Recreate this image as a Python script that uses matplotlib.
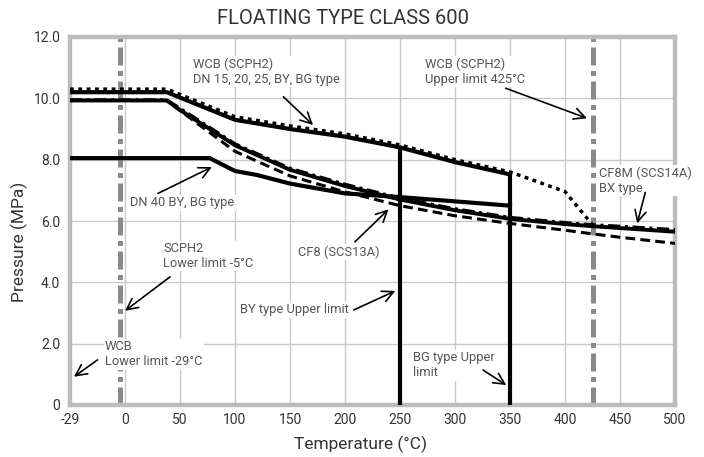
import matplotlib
matplotlib.use("Agg")
import matplotlib.pyplot as plt
import numpy as np

plt.rcParams['font.family'] = ['Roboto', 'DejaVu Sans']

# ---------------- data ----------------
# x position -50 is the left edge of the axis, labelled "-29"
x_ticks = [-50, 0, 50, 100, 150, 200, 250, 300, 350, 400, 450, 500]
x_tick_labels = ["-29", "0", "50", "100", "150", "200", "250", "300", "350", "400", "450", "500"]
y_ticks = [0, 2, 4, 6, 8, 10, 12]
y_tick_labels = ["0", "2.0", "4.0", "6.0", "8.0", "10.0", "12.0"]

# WCB (SCPH2) DN 15, 20, 25 BY, BG type (solid)
t_wcb = [-50, 38, 100, 150, 200, 250, 300, 350]
p_wcb = [10.2, 10.2, 9.3, 9.0, 8.75, 8.4, 7.92, 7.52]

# WCB (SCPH2) rating (dotted)
t_wcb_dot = [-50, 38, 100, 150, 200, 250, 300, 350, 400, 425]
p_wcb_dot = [10.3, 10.3, 9.4, 9.1, 8.84, 8.48, 8.0, 7.6, 6.96, 5.87]

# DN 40 BY, BG type (solid)
t_dn40 = [-50, 77, 100, 120, 150, 200, 250, 300, 350]
p_dn40 = [8.05, 8.05, 7.63, 7.5, 7.22, 6.9, 6.78, 6.64, 6.5]

# stainless curves
t_ss = [-50, 38, 50, 100, 150, 200, 250, 300, 350, 400, 425, 450, 500]
p_cf8m_dd = [9.95, 9.95, 9.68, 8.52, 7.72, 7.2, 6.75, 6.4, 6.12, 5.95, 5.88, 5.83, 5.72]
p_cf8m_solid = [9.93, 9.93, 9.62, 8.47, 7.67, 7.14, 6.7, 6.35, 6.07, 5.9, 5.83, 5.77, 5.65]
p_cf8 = [9.93, 9.93, 9.6, 8.27, 7.47, 6.95, 6.5, 6.17, 5.92, 5.7, 5.58, 5.47, 5.27]

# temperature limits
scph2_lower = -5
wcb_upper = 425
by_upper = 250
bg_upper = 350

# ---------------- figure ----------------
fig = plt.figure(figsize=(7.04, 4.57), dpi=100)
ax = fig.add_axes([70/704, 1-405/457, 605/704, 368/457])
ax.set_xlim(-50, 500)
ax.set_ylim(0, 12)

grid_c = '#c9c9c9'
for x in x_ticks[1:-1]:
    ax.axvline(x, color=grid_c, lw=1.0, zorder=0)
for y in y_ticks[1:-1]:
    ax.axhline(y, color=grid_c, lw=1.0, zorder=0)

for s in ax.spines.values():
    s.set_color('#bcbcbc')
    s.set_linewidth(3.2)

ax.set_xticks(x_ticks)
ax.set_xticklabels(x_tick_labels)
ax.set_yticks(y_ticks)
ax.set_yticklabels(y_tick_labels)
ax.tick_params(length=0, labelsize=10, colors='#333333')
ax.tick_params(axis='y', pad=7)
ax.tick_params(axis='x', pad=6)

# gray dash-dot limit lines
gray = '#8a8a8a'
for xv in (scph2_lower, wcb_upper):
    ax.plot([xv, xv], [0, 12], color=gray, lw=3.6, ls=(0, (3.6, 1.1, 1.0, 1.1)),
            solid_capstyle='butt', dash_capstyle='butt', zorder=1)

# curves
ax.plot(t_ss, p_cf8, color='black', lw=2.2, ls=(0, (3.2, 1.7)), zorder=3)
ax.plot(t_ss, p_cf8m_solid, color='black', lw=2.8, zorder=3)
ax.plot(t_ss, p_cf8m_dd, color='black', lw=2.2, ls=(0, (4, 1.5, 1, 1.5)), zorder=3)
ax.plot(t_dn40, p_dn40, color='black', lw=3.0, zorder=3)
ax.plot(t_wcb_dot, p_wcb_dot, color='black', lw=2.5, ls=(0, (1.1, 1.3)), zorder=3)
ax.plot(t_wcb, p_wcb, color='black', lw=3.0, zorder=3)

# vertical upper-limit lines
ax.plot([by_upper, by_upper], [0, np.interp(by_upper, t_wcb, p_wcb)], color='black', lw=3.0,
        solid_capstyle='butt', zorder=3)
ax.plot([bg_upper, bg_upper], [0, np.interp(bg_upper, t_wcb, p_wcb)], color='black', lw=3.0,
        solid_capstyle='butt', zorder=3)

# annotations
txt_c = '#555555'
bb = dict(facecolor='white', edgecolor='none', pad=1.0)
arrow = dict(arrowstyle='->', color='black', lw=1.2, shrinkA=0, shrinkB=0,
             mutation_scale=20)

notes = [
    ("WCB (SCPH2)\nDN 15, 20, 25, BY, BG type", (62, 10.87), (171, 9.13), (144, 10.05)),
    ("WCB (SCPH2)\nUpper limit 425°C", (273, 10.87), (420, 9.35), (346, 10.33)),
    ("DN 40 BY, BG type", (4.5, 6.59), (79, 7.76), (30, 6.9)),
    ("CF8 (SCS13A)", (157, 4.99), (239.6, 6.38), (209, 5.32)),
    ("CF8M (SCS14A)\nBX type", (431, 7.32), (465.6, 5.92), (473, 6.93)),
    ("SCPH2\nLower limit -5°C", (34.6, 4.86), (0, 3.07), (41, 4.18)),
    ("WCB\nLower limit -29°C", (-18.2, 1.66), (-46.4, 0.92), (-25, 1.47)),
    ("BY type Upper limit", (104.6, 3.1), (245.7, 3.72), (208, 3.1)),
    ("BG type Upper\nlimit", (262, 1.29), (346.7, 0.65), (325.5, 1.14)),
]
for label, tpos, tip, start in notes:
    ax.text(tpos[0], tpos[1], label, ha='left', va='center', fontsize=9.3,
            color=txt_c, linespacing=1.2, bbox=bb, zorder=4)
    ax.annotate('', xy=tip, xytext=start, arrowprops=arrow, zorder=5)

fig.text(343/704, 1-18/457, "FLOATING TYPE CLASS 600", ha='center', va='center',
         fontsize=14.5, color='#333333')
ax.set_xlabel("Temperature (°C)", fontsize=12.5, color='#333333')
ax.set_ylabel("Pressure (MPa)", fontsize=12.5, color='#333333')
ax.xaxis.set_label_coords((361-70)/605, -(436-405)/368)
ax.yaxis.set_label_coords(-(70-28)/605, (405-242)/368)

fig.savefig("out.png", dpi=100)
